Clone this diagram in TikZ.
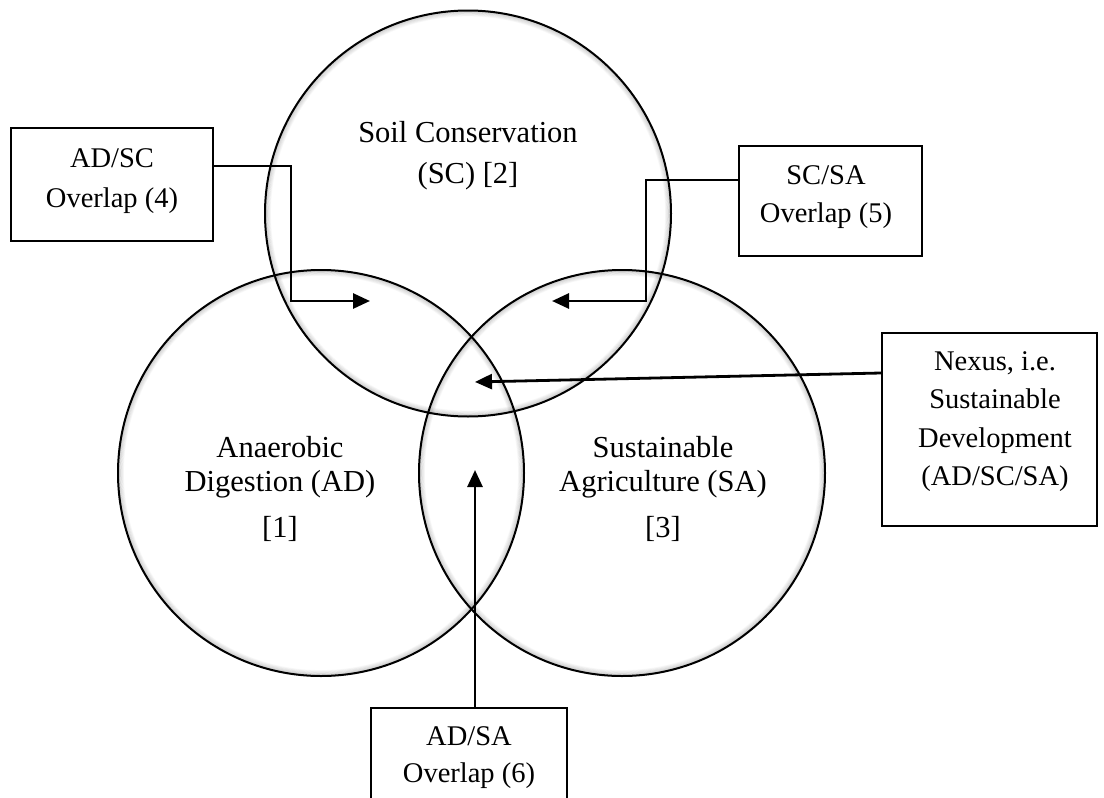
\documentclass[tikz,border=0pt]{standalone}
\usepackage{fontspec}
\setmainfont{Liberation Serif}
\usetikzlibrary{arrows.meta,calc}
\begin{document}
\begin{tikzpicture}[x=1pt,y=-1pt,
  ring/.style={draw=black, line width=2pt},
  box/.style={draw=black, line width=2.2pt, fill=white, inner sep=0pt},
  conn/.style={draw=black, line width=2.8pt, -{Triangle[length=17pt,width=15pt]}},
  ctext/.style={anchor=base, inner sep=0pt, font=\fontsize{30.5pt}{34pt}\selectfont},
  btext/.style={anchor=base, inner sep=0pt, font=\fontsize{28.5pt}{32pt}\selectfont},
]
\useasboundingbox (0,0) rectangle (1104,798);
\clip (0,0) rectangle (1104,798);

% circle centres
\coordinate (sc) at (468,213.5);
\coordinate (ad) at (321,473);
\coordinate (sa) at (622,473);

% circles with a soft inner edge
\foreach \cc in {sc,ad,sa}{
  \foreach \i in {1,...,6}{
    \pgfmathsetmacro\op{0.16*(7-\i)/6}
    \pgfmathsetmacro\rr{203-\i*0.9}
    \draw[line width=1pt, draw=black, opacity=\op] (\cc) circle[radius=\rr pt];
  }
  \draw[ring] (\cc) circle[radius=203pt];
}

% circle labels
\node[ctext] (sc1) at (468,142) {Soil Conservation};
\node[ctext] (sc2) at (468,183) {(SC) [2]};
\node[ctext] (ad1) at (280,457) {Anaerobic};
\node[ctext] (ad2) at (280,491) {Digestion (AD)};
\node[ctext] (ad3) at (280,537) {[1]};
\node[ctext] (sa1) at (663,457) {Sustainable};
\node[ctext] (sa2) at (663,491) {Agriculture (SA)};
\node[ctext] (sa3) at (663,537) {[3]};

% callout boxes
\node[box, minimum width=202pt, minimum height=113pt] (adsc) at (112,184.5) {};
\node[box, minimum width=183pt, minimum height=110pt] (scsa) at (830.5,201) {};
\node[box, minimum width=215pt, minimum height=193pt] (nexus) at (989.5,429.5) {};
\node[box, minimum width=196pt, minimum height=122pt] (adsa) at (469,769) {};

\node[btext] (adsc1) at (112,167) {AD/SC};
\node[btext] (adsc2) at (112,207) {Overlap (4)};
\node[btext] (scsa1) at (826,184) {SC/SA};
\node[btext] (scsa2) at (826,222) {Overlap (5)};
\node[btext] (nx1) at (995,370) {Nexus, i.e.};
\node[btext] (nx2) at (995,408) {Sustainable};
\node[btext] (nx3) at (995,447) {Development};
\node[btext] (nx4) at (995,485) {(AD/SC/SA)};
\node[btext] (adsa1) at (469,745) {AD/SA};
\node[btext] (adsa2) at (469,782) {Overlap (6)};

% arrow targets and bends
\coordinate (t1) at (370,301);
\coordinate (b1) at (291,301);
\coordinate (t2) at (552,301);
\coordinate (b2) at (646,301);
\coordinate (t3) at (475,382);
\coordinate (t4) at (475,470);

% connectors
\draw[conn] ([yshift=18.5pt]adsc.east) -| (b1) -- (t1);
\draw[conn] ([yshift=21pt]scsa.west) -| (b2) -- (t2);
\draw[conn] ([yshift=56.5pt]nexus.west) -- (t3);
\draw[conn] ([xshift=6pt]adsa.north) -- (t4);
\end{tikzpicture}
\end{document}
